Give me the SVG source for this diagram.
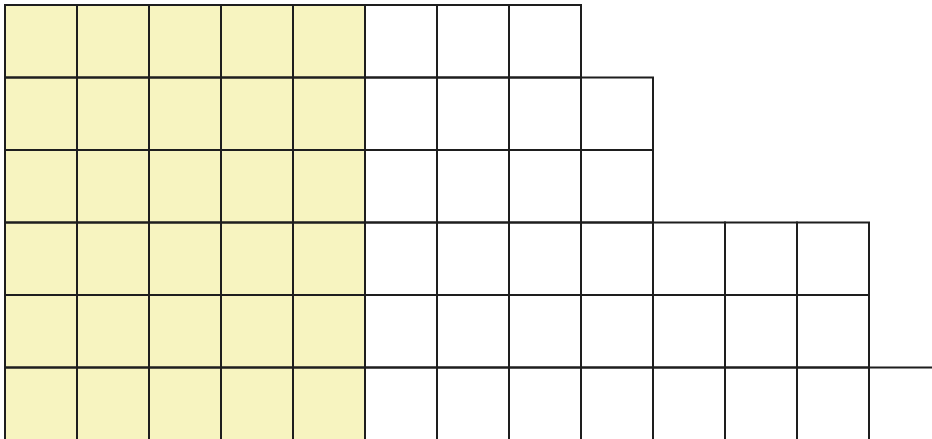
<svg xmlns="http://www.w3.org/2000/svg" width="932" height="439" viewBox="0 0 932 439">
<style>
.c{fill:none;stroke:#1e1e1e;stroke-width:2}
.y{fill:#f7f4c0}
</style>
<rect width="932" height="439" fill="#ffffff"/>
<rect class="y" x="5" y="5" width="360" height="440"/>
<g id="row1">
<rect class="c" x="5" y="5" width="72" height="72.5"/><rect class="c" x="77" y="5" width="72" height="72.5"/><rect class="c" x="149" y="5" width="72" height="72.5"/><rect class="c" x="221" y="5" width="72" height="72.5"/><rect class="c" x="293" y="5" width="72" height="72.5"/><rect class="c" x="365" y="5" width="72" height="72.5"/><rect class="c" x="437" y="5" width="72" height="72.5"/><rect class="c" x="509" y="5" width="72" height="72.5"/>
</g>
<g id="row2">
<rect class="c" x="5" y="77.5" width="72" height="72.5"/><rect class="c" x="77" y="77.5" width="72" height="72.5"/><rect class="c" x="149" y="77.5" width="72" height="72.5"/><rect class="c" x="221" y="77.5" width="72" height="72.5"/><rect class="c" x="293" y="77.5" width="72" height="72.5"/><rect class="c" x="365" y="77.5" width="72" height="72.5"/><rect class="c" x="437" y="77.5" width="72" height="72.5"/><rect class="c" x="509" y="77.5" width="72" height="72.5"/><rect class="c" x="581" y="77.5" width="72" height="72.5"/>
</g>
<g id="row3">
<rect class="c" x="5" y="150" width="72" height="72.5"/><rect class="c" x="77" y="150" width="72" height="72.5"/><rect class="c" x="149" y="150" width="72" height="72.5"/><rect class="c" x="221" y="150" width="72" height="72.5"/><rect class="c" x="293" y="150" width="72" height="72.5"/><rect class="c" x="365" y="150" width="72" height="72.5"/><rect class="c" x="437" y="150" width="72" height="72.5"/><rect class="c" x="509" y="150" width="72" height="72.5"/><rect class="c" x="581" y="150" width="72" height="72.5"/>
</g>
<g id="row4">
<rect class="c" x="5" y="222.5" width="72" height="72.5"/><rect class="c" x="77" y="222.5" width="72" height="72.5"/><rect class="c" x="149" y="222.5" width="72" height="72.5"/><rect class="c" x="221" y="222.5" width="72" height="72.5"/><rect class="c" x="293" y="222.5" width="72" height="72.5"/><rect class="c" x="365" y="222.5" width="72" height="72.5"/><rect class="c" x="437" y="222.5" width="72" height="72.5"/><rect class="c" x="509" y="222.5" width="72" height="72.5"/><rect class="c" x="581" y="222.5" width="72" height="72.5"/><rect class="c" x="653" y="222.5" width="72" height="72.5"/><rect class="c" x="725" y="222.5" width="72" height="72.5"/><rect class="c" x="797" y="222.5" width="72" height="72.5"/>
</g>
<g id="row5">
<rect class="c" x="5" y="295" width="72" height="72.5"/><rect class="c" x="77" y="295" width="72" height="72.5"/><rect class="c" x="149" y="295" width="72" height="72.5"/><rect class="c" x="221" y="295" width="72" height="72.5"/><rect class="c" x="293" y="295" width="72" height="72.5"/><rect class="c" x="365" y="295" width="72" height="72.5"/><rect class="c" x="437" y="295" width="72" height="72.5"/><rect class="c" x="509" y="295" width="72" height="72.5"/><rect class="c" x="581" y="295" width="72" height="72.5"/><rect class="c" x="653" y="295" width="72" height="72.5"/><rect class="c" x="725" y="295" width="72" height="72.5"/><rect class="c" x="797" y="295" width="72" height="72.5"/>
</g>
<g id="row6">
<rect class="c" x="5" y="367.5" width="72" height="76"/><rect class="c" x="77" y="367.5" width="72" height="76"/><rect class="c" x="149" y="367.5" width="72" height="76"/><rect class="c" x="221" y="367.5" width="72" height="76"/><rect class="c" x="293" y="367.5" width="72" height="76"/><rect class="c" x="365" y="367.5" width="72" height="76"/><rect class="c" x="437" y="367.5" width="72" height="76"/><rect class="c" x="509" y="367.5" width="72" height="76"/><rect class="c" x="581" y="367.5" width="72" height="76"/><rect class="c" x="653" y="367.5" width="72" height="76"/><rect class="c" x="725" y="367.5" width="72" height="76"/><rect class="c" x="797" y="367.5" width="72" height="76"/>
<line class="c" x1="869" y1="367.5" x2="932" y2="367.5"/>
</g>
</svg>
